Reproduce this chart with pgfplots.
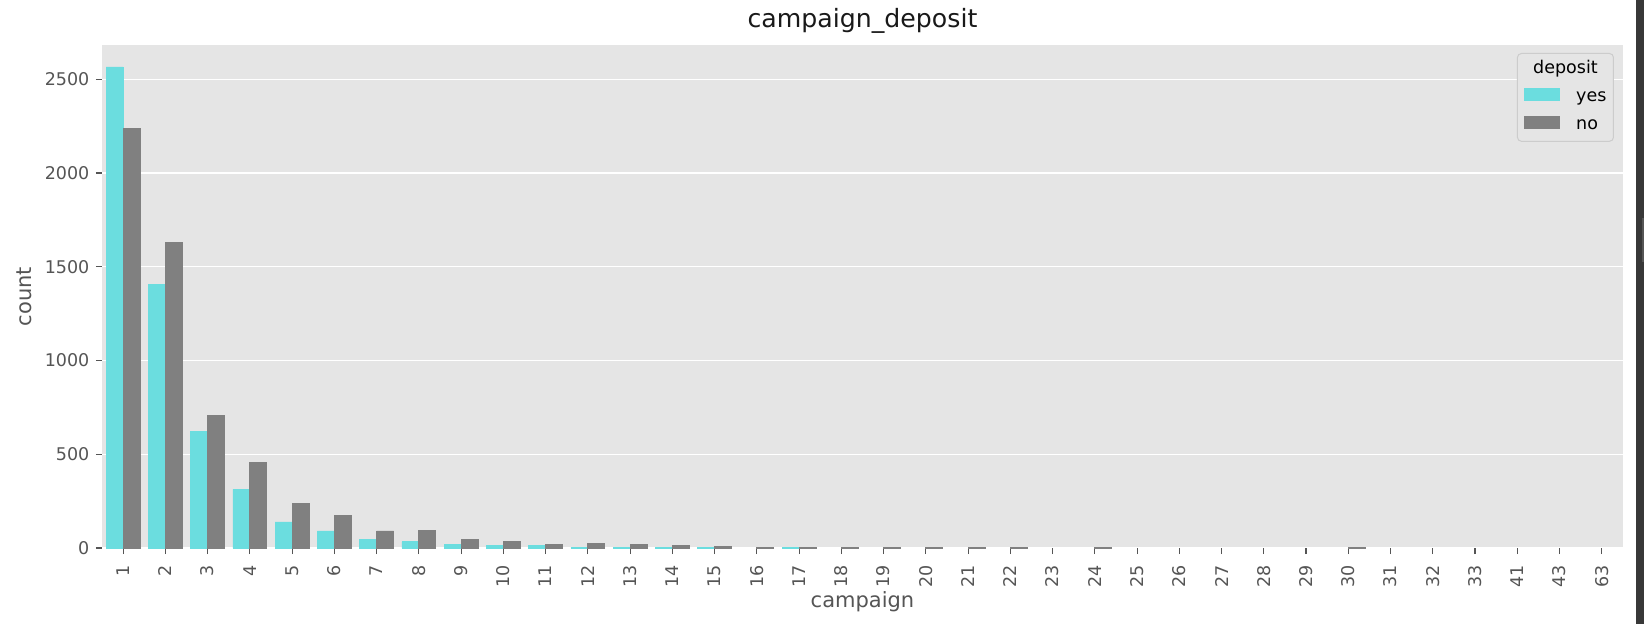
\documentclass[border=0pt]{standalone}
\usepackage{fontspec}
\setmainfont{DejaVu Sans}
\usepackage{pgfplots}
\pgfplotsset{compat=1.18}
\definecolor{bg}{HTML}{E5E5E5}
\definecolor{yescol}{RGB}{107,221,223}
\definecolor{nocol}{RGB}{128,128,128}
\definecolor{tickgray}{HTML}{555555}
\definecolor{legedge}{HTML}{CCCCCC}
\definecolor{strip}{HTML}{383838}
\definecolor{strip2}{HTML}{555555}
\begin{document}
\begin{tikzpicture}[x=1pt,y=1pt]
\fill[white] (0,0) rectangle (1644,624);
\useasboundingbox (0,0) rectangle (1644,624);
\fill[strip] (1636,0) rectangle (1644,624);
\fill[strip2] (1642,362) rectangle (1644,406);
\begin{axis}[
  at={(102pt,76pt)}, anchor=south west,
  scale only axis, width=1521pt, height=503pt,
  xmin=-0.5, xmax=35.5, ymin=0, ymax=2683,
  axis background/.style={fill=bg},
  axis line style={draw=none},
  ymajorgrids, grid style={white, line width=1.2pt},
  tick pos=left, tick align=outside, major tick length=6pt,
  tick style={tickgray, line width=1.2pt},
  xtick={0,...,35},
  xticklabels={1,2,3,4,5,6,7,8,9,10,11,12,13,14,15,16,17,18,19,20,21,22,23,24,25,26,27,28,29,30,31,32,33,41,43,63},
  ytick={0,500,1000,1500,2000,2500},
  /pgf/number format/1000 sep={},
  /pgf/number format/assume math mode=true,
  ticklabel style={font=\fontsize{17.5}{17.5}\selectfont, text=tickgray},
  xticklabel style={rotate=90, anchor=east, inner sep=0pt},
  yticklabel style={anchor=east, inner sep=0pt},
  xticklabel shift=11.5pt,
  yticklabel shift=6.5pt,
  xlabel={campaign}, ylabel={count},
  xlabel style={at={(axis description cs:0.5,-0.1173)}, anchor=base, font=\fontsize{21}{21}\selectfont, text=tickgray},
  ylabel style={at={(axis description cs:-0.0464,0.5)}, rotate=0, anchor=base, font=\fontsize{21}{21}\selectfont, text=tickgray},
  title={campaign\_deposit},
  title style={at={(axis description cs:0.5,1.0233)}, anchor=base, font=\fontsize{25.2}{25.2}\selectfont, text=black!90},
  ybar, bar width=0.4,
  legend style={at={(axis description cs:0.9941,0.9841)}, anchor=north east,
    fill=bg, draw=legedge, line width=1pt, rounded corners=4pt,
    inner xsep=7pt, inner ysep=7.5pt, row sep=10.5pt, column sep=16pt,
    font=\fontsize{17.5}{17.5}\selectfont,
    nodes={inner sep=0pt, text height=13pt, text depth=4pt},
    cells={anchor=base west}},
]
\addlegendimage{empty legend}
\addlegendentry{\hspace*{-43pt}deposit}
\addplot[fill=yescol, draw=yescol, line width=0.8pt, bar shift=-0.2,
  legend image code/.code={\fill[yescol, sharp corners] (0pt,1.6pt) rectangle (35pt,13pt);}]
  coordinates {(0,2566)(1,1406)(2,621)(3,313)(4,139)(5,91)(6,48)(7,33)(8,18)(9,12)(10,12)(11,4)(12,4)(13,4)(14,4)(16,4)};
\addlegendentry{yes}
\addplot[fill=nocol, draw=nocol, line width=0.8pt, bar shift=0.2,
  legend image code/.code={\fill[nocol, sharp corners] (0pt,1.6pt) rectangle (35pt,13pt);}]
  coordinates {(0,2236)(1,1630)(2,705)(3,454)(4,237)(5,173)(6,91)(7,95)(8,47)(9,33)(10,19)(11,26)(12,19)(13,13)(14,6)(15,4)(16,4)(17,4)(18,3)(19,3)(20,3)(21,3)(23,3)(29,3)};
\addlegendentry{no}
\end{axis}
\end{tikzpicture}
\end{document}
